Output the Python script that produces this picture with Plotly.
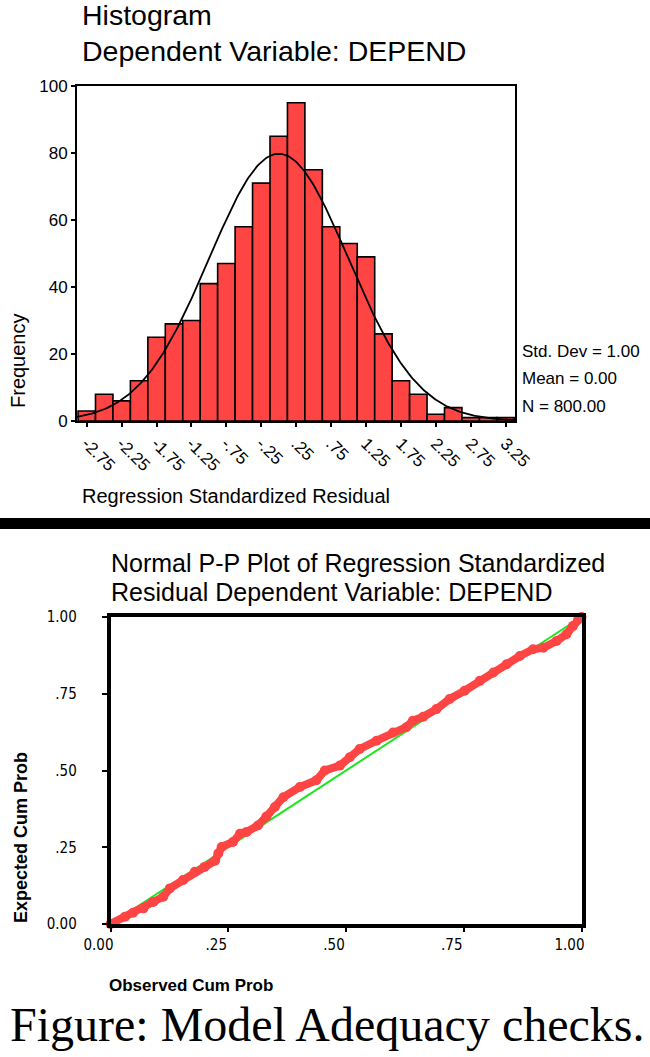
import numpy as np
import plotly.graph_objects as go

W, H = 650, 1057

# --- histogram data ---
bin_centers = [-2.75, -2.5, -2.25, -2.0, -1.75, -1.5, -1.25, -1.0, -0.75, -0.5, -0.25,
               0.0, 0.25, 0.5, 0.75, 1.0, 1.25, 1.5, 1.75, 2.0, 2.25, 2.5, 2.75, 3.0, 3.25]
frequency = [3, 8, 6, 12, 25, 29, 30, 41, 47, 58, 71, 85, 95, 75, 58, 53, 49, 26, 12, 8, 2, 4, 1, 1, 1]
hist_tick_labels = ["-2.75", "-2.25", "-1.75", "-1.25", "-.75", "-.25", ".25", ".75",
                    "1.25", "1.75", "2.25", "2.75", "3.25"]
freq_ticks = [0, 20, 40, 60, 80, 100]

# summary stats shown next to the histogram
STD_DEV = 1.00
MEAN = 0.00
N = 800
BIN_WIDTH = 0.25

# --- normal P-P plot data ---
observed_cum_prob = [0.000, 0.031, 0.048, 0.070, 0.091, 0.112, 0.126, 0.154, 0.179, 0.200,
                     0.222, 0.229, 0.236, 0.260, 0.275, 0.289, 0.313, 0.331, 0.349, 0.367,
                     0.402, 0.437, 0.455, 0.487, 0.508, 0.529, 0.565, 0.600, 0.628, 0.642,
                     0.664, 0.692, 0.720, 0.752, 0.784, 0.813, 0.841, 0.869, 0.897, 0.919,
                     0.947, 0.968, 0.982, 0.993, 1.000]
expected_cum_prob = [0.000, 0.024, 0.037, 0.051, 0.072, 0.089, 0.116, 0.143, 0.170, 0.186,
                     0.206, 0.230, 0.251, 0.267, 0.294, 0.300, 0.321, 0.350, 0.381, 0.413,
                     0.446, 0.468, 0.500, 0.516, 0.543, 0.570, 0.597, 0.624, 0.641, 0.662,
                     0.675, 0.700, 0.733, 0.760, 0.792, 0.819, 0.846, 0.873, 0.895, 0.900,
                     0.922, 0.944, 0.971, 0.992, 1.000]
pp_ticks = ["0.00", ".25", ".50", ".75", "1.00"]

ARIAL = "Arial, 'Liberation Sans', sans-serif"
NARROW = "'Liberation Sans Narrow', 'Arial Narrow', 'DejaVu Sans Condensed', sans-serif"
RED = "#ff4444"


# page pixel -> paper fraction
def px(x):
    return x / W


def py(y):
    return 1 - y / H


hist_range = [-2.89, 3.385]

# fitted normal curve from the stats above
xs = np.linspace(hist_range[0], hist_range[1], 300)
curve = N * BIN_WIDTH * np.exp(-0.5 * ((xs - MEAN) / STD_DEV) ** 2) / (STD_DEV * np.sqrt(2 * np.pi))

fig = go.Figure()

fig.add_trace(go.Bar(
    x=bin_centers, y=frequency, width=BIN_WIDTH,
    marker=dict(color=RED, line=dict(color="black", width=1.6)),
    xaxis="x", yaxis="y", showlegend=False,
))
fig.add_trace(go.Scatter(
    x=xs, y=curve, mode="lines", line=dict(color="black", width=1.8),
    xaxis="x", yaxis="y", showlegend=False,
))

fig.add_trace(go.Scatter(
    x=[0, 1], y=[0, 1], mode="lines", line=dict(color="#1ee61e", width=2),
    xaxis="x2", yaxis="y2", showlegend=False,
))
fig.add_trace(go.Scatter(
    x=observed_cum_prob, y=expected_cum_prob, mode="lines+markers",
    line=dict(color=RED, width=8),
    marker=dict(color=RED, size=10),
    xaxis="x2", yaxis="y2", showlegend=False, cliponaxis=False,
))

axis_common = dict(showline=True, mirror=True, linecolor="black", showgrid=False,
                   zeroline=False, ticks="outside", tickcolor="black",
                   automargin=False)

fig.update_layout(
    template="none",
    width=W, height=H,
    margin=dict(l=0, r=0, t=0, b=0, pad=0, autoexpand=False),
    paper_bgcolor="white", plot_bgcolor="white",
    font=dict(family=ARIAL, color="black"),
    xaxis=dict(axis_common, domain=[px(77), px(515)], range=hist_range, linewidth=2,
               ticklen=4, tickwidth=1.5,
               tickvals=[float(t) for t in hist_tick_labels], ticktext=hist_tick_labels,
               tickangle=45, tickfont=dict(size=17), anchor="y"),
    yaxis=dict(axis_common, domain=[py(421), py(86)], range=[0, 100], linewidth=2,
               ticklen=4, tickwidth=1.5,
               tickvals=freq_ticks, tickfont=dict(size=17), anchor="x"),
    xaxis2=dict(axis_common, domain=[px(110.5), px(581.5)], range=[0, 1], linewidth=3.5,
                ticklen=4, tickwidth=2,
                tickvals=[float(t) for t in pp_ticks], ticktext=pp_ticks,
                tickfont=dict(size=15, family=NARROW), ticklabelshift=-12, anchor="y2"),
    yaxis2=dict(axis_common, domain=[py(924), py(617)], range=[0, 1], linewidth=3.5,
                ticklen=5, tickwidth=2, ticklabelstandoff=22,
                tickvals=[float(t) for t in pp_ticks], ticktext=pp_ticks,
                tickfont=dict(size=15, family=NARROW), anchor="x2"),
)


def note(text, x, y, size, xanchor="left", angle=0, bold=False, family=ARIAL):
    if bold:
        text = "<b>" + text + "</b>"
    fig.add_annotation(text=text, x=px(x), y=py(y), xref="paper", yref="paper",
                       xanchor=xanchor, yanchor="middle", showarrow=False,
                       textangle=angle, font=dict(size=size, family=family, color="black"))


# histogram texts
note("Histogram", 80, 15, 28.5)
note("Dependent Variable: DEPEND", 80, 51, 28.5)
note("Frequency", 18, 361, 20, xanchor="center", angle=-90)
note("Regression Standardized Residual", 80, 496, 20)
note(f"Std. Dev = {STD_DEV:.2f}", 520, 351, 17)
note(f"Mean = {MEAN:.2f}", 520, 378, 17)
note(f"N = {N:.2f}", 520, 407, 17)

# separator
fig.add_shape(type="rect", xref="paper", yref="paper", x0=0, x1=1,
              y0=py(529), y1=py(518), fillcolor="black", line=dict(width=0))

# P-P texts
note("Normal P-P Plot of Regression Standardized", 109, 563, 25)
note("Residual Dependent Variable: DEPEND", 109, 592, 25)
note("Expected Cum Prob", 21, 838, 18, xanchor="center", angle=-90, bold=True)
note("Observed Cum Prob", 107, 985, 17, bold=True)

# caption
note("Figure: Model Adequacy checks.", 8, 1024, 48,
     family="'Times New Roman', 'Liberation Serif', serif")

# drop the default body margin so the figure sits at the page origin
fig.write_html("out.html", config={"displayModeBar": False},
               post_script="document.body.style.margin = '0px';")
